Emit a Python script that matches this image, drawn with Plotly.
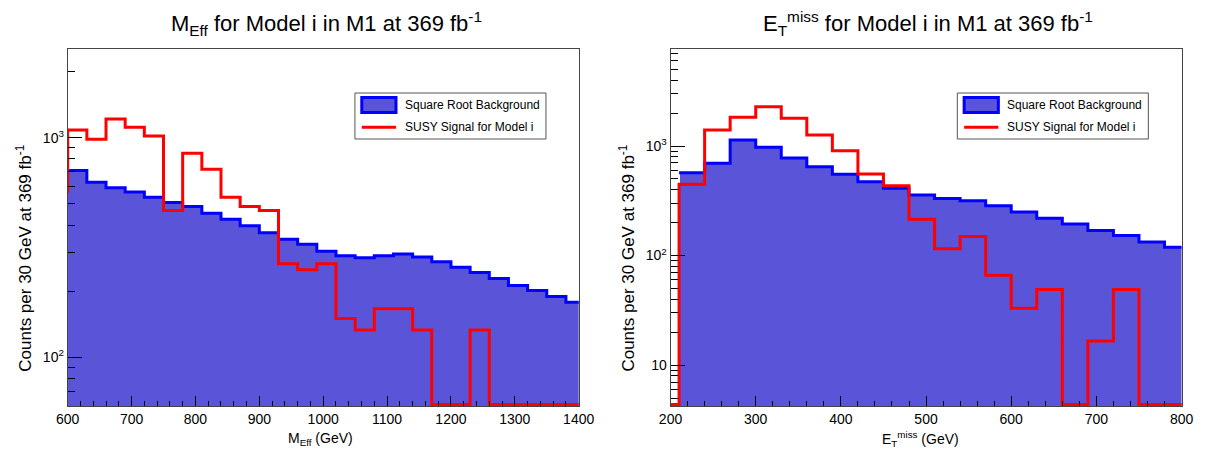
import plotly.graph_objects as go

W, H = 1221, 452

# ---------------- data ----------------
bin_width = 30
meff_first_edge = 600
meff_bkg = [708, 626, 592, 566, 535, 506, 486, 453, 425, 397, 369, 344, 327, 304,
            290, 284, 290, 295, 286, 272, 257, 243, 228, 212, 201, 189, 178]
meff_sig = [1084, 984, 1216, 1115, 1018, 466, 849, 718, 535, 486, 466, 266, 250, 266,
            150, 133, 166, 166, 133, 0, 0, 133, 0, 0, 0, 0, 0]
meff_sig_prev = 560   # content of bin just below the visible range

met_first_edge = 210
met_bkg = [570, 695, 1135, 973, 776, 647, 551, 472, 411, 357, 331, 317, 285, 250,
           219, 194, 169, 152, 133, 119]
met_sig = [447, 1399, 1829, 2286, 1792, 1260, 906, 555, 434, 214, 115, 149, 66, 33,
           49, 0, 16.6, 49, 0, 0]
met_sig_prev = 0

meff_xticks = [600, 700, 800, 900, 1000, 1100, 1200, 1300, 1400]
met_xticks = [200, 300, 400, 500, 600, 700, 800]

# ---------------- style ----------------
FONT = "Liberation Sans, Arial, Helvetica, sans-serif"
FILL = "rgb(90,84,217)"
BLUE = "rgb(0,0,255)"
RED = "rgb(255,0,0)"
FRAME = "#444444"

# pixel geometry of the two frames
L_X0, L_X1 = 57, 580
R_X0, R_X1 = 674, 1197
Y_TOP, Y_BOT = 49.3, 406

meff_yrange = [1.777, 3.403]
met_yrange = [0.626, 3.883]


def px(x):
    return x / W


def py(y):
    return 1 - y / H


def edges(first, n):
    return [first + bin_width * i for i in range(n + 1)]


def floor_val(yr):
    px_per_dec = (Y_BOT - Y_TOP) / (yr[1] - yr[0])
    return 10 ** (yr[0] + 1.6 / px_per_dec)


def step_xy(first, values, prev=None, floor=1.0):
    e = edges(first, len(values))
    vals = [v if v > 0 else floor for v in values]
    xs, ys = [], []
    if prev is not None:
        xs.append(first - bin_width)
        ys.append(prev if prev > 0 else floor)
    xs += e[:-1] + [e[-1]]
    ys += vals + [vals[-1]]
    return xs, ys


fig = go.Figure()


def add_panel(first, bkg, sig, sig_prev, xa, ya, yr):
    e = edges(first, len(bkg))
    centers = [(e[i] + e[i + 1]) / 2 for i in range(len(bkg))]
    fl = floor_val(yr)
    fig.add_trace(go.Bar(x=centers, y=bkg, width=bin_width, marker=dict(color=FILL, line=dict(width=0)),
                         xaxis=xa, yaxis=ya, showlegend=False, hoverinfo="skip"))
    bx, by = step_xy(first, bkg, floor=fl)
    fig.add_trace(go.Scatter(x=bx, y=by, mode="lines", line=dict(color=BLUE, width=3, shape="hv"),
                             xaxis=xa, yaxis=ya, showlegend=False, hoverinfo="skip"))
    sx, sy = step_xy(first, sig, prev=sig_prev, floor=fl)
    if sig_prev is not None and sig_prev > 0:
        sx[0] = first
    fig.add_trace(go.Scatter(x=sx, y=sy, mode="lines", line=dict(color=RED, width=3, shape="hv"),
                             xaxis=xa, yaxis=ya, showlegend=False, hoverinfo="skip"))


add_panel(meff_first_edge, meff_bkg, meff_sig, meff_sig_prev, "x", "y", meff_yrange)
add_panel(met_first_edge, met_bkg, met_sig, met_sig_prev, "x2", "y2", met_yrange)


def sup(n):
    return f"10<sup>{n}</sup>"


def xaxis_cfg(domain, rng, ticks):
    return dict(domain=domain, range=rng, tickmode="array", tickvals=ticks,
                ticktext=[str(t) for t in ticks], ticks="inside", ticklen=10, tickwidth=1,
                tickcolor="black", showline=True, mirror=True, linecolor=FRAME, linewidth=1,
                showgrid=False, zeroline=False, tickfont=dict(size=14, color="black", family=FONT),
                minor=dict(dtick=20, tick0=0, ticks="inside", ticklen=5, tickwidth=1,
                           tickcolor="black", showgrid=False),
                fixedrange=True)


def yaxis_cfg(domain, rng, majors, minors, anchor):
    return dict(domain=domain, type="log", range=rng, anchor=anchor, tickmode="array",
                tickvals=majors,
                ticktext=[("10" if m == 10 else sup(len(str(int(m))) - 1)) for m in majors],
                ticks="inside", ticklen=14, tickwidth=1, tickcolor="black",
                showline=True, mirror=True, linecolor=FRAME, linewidth=1,
                showgrid=False, zeroline=False,
                tickfont=dict(size=14, color="black", family=FONT),
                minor=dict(tickmode="array", tickvals=minors, ticks="inside", ticklen=7,
                           tickwidth=1, tickcolor="black", showgrid=False),
                fixedrange=True)


ydom = [py(Y_BOT), py(Y_TOP)]
left_minors = [60, 70, 80, 90] + [k * 100 for k in range(2, 10)] + [2000]
right_minors = [5, 6, 7, 8, 9] + [k * 10 for k in range(2, 10)] + [k * 100 for k in range(2, 10)] + \
               [k * 1000 for k in range(2, 8)]

fig.update_layout(
    width=W, height=H, margin=dict(l=0, r=0, t=0, b=0),
    paper_bgcolor="white", plot_bgcolor="white",
    font=dict(family=FONT, color="black"),
    bargap=0, barmode="overlay", showlegend=False,
    xaxis=xaxis_cfg([px(L_X0), px(L_X1)], [600, 1400], meff_xticks) | dict(anchor="y"),
    yaxis=yaxis_cfg(ydom, meff_yrange, [100, 1000], left_minors, "x"),
    xaxis2=xaxis_cfg([px(R_X0), px(R_X1)], [200, 800], met_xticks) | dict(anchor="y2"),
    yaxis2=yaxis_cfg(ydom, met_yrange, [10, 100, 1000], right_minors, "x2"),
)

ann = []
shapes = []


def text(x, y, s, size, xanchor="center", angle=0):
    ann.append(dict(x=px(x), y=py(y), xref="paper", yref="paper", text=s, showarrow=False,
                    xanchor=xanchor, yanchor="middle", textangle=angle,
                    font=dict(size=size, family=FONT, color="black")))


# titles
text(322, 24, "M<sub>Eff</sub> for Model i in M1 at 369 fb<sup>-1</sup>", 22)
text(937, 24, "E<sub>T</sub><sup>miss</sup> for Model i in M1 at 369 fb<sup>-1</sup>", 22)
# axis titles
text(316, 439, "M<sub>Eff</sub> (GeV)", 14)
text(930, 439, "E<sub>T</sub><sup>miss</sup> (GeV)", 14)
text(12, 258, "Counts per 30 GeV at 369 fb<sup>-1</sup>", 17, angle=-90)
text(629, 258, "Counts per 30 GeV at 369 fb<sup>-1</sup>", 17, angle=-90)


# legends
def legend(x0):
    shapes.append(dict(type="rect", xref="paper", yref="paper", x0=px(x0), x1=px(x0 + 195.5),
                       y0=py(139), y1=py(93), line=dict(color="#555555", width=1),
                       fillcolor="white", layer="above"))
    shapes.append(dict(type="rect", xref="paper", yref="paper", x0=px(x0 + 7), x1=px(x0 + 42),
                       y0=py(112.5), y1=py(97.5), line=dict(color=BLUE, width=3),
                       fillcolor=FILL, layer="above"))
    shapes.append(dict(type="line", xref="paper", yref="paper", x0=px(x0 + 7), x1=px(x0 + 42),
                       y0=py(127.3), y1=py(127.3), line=dict(color=RED, width=3), layer="above"))
    text(x0 + 49, 105, "Square Root Background", 12, xanchor="left")
    text(x0 + 49, 127.5, "SUSY Signal for Model i", 12, xanchor="left")


legend(351)
legend(967.5)

fig.update_layout(annotations=ann, shapes=shapes)
fig.write_html("out.html")
